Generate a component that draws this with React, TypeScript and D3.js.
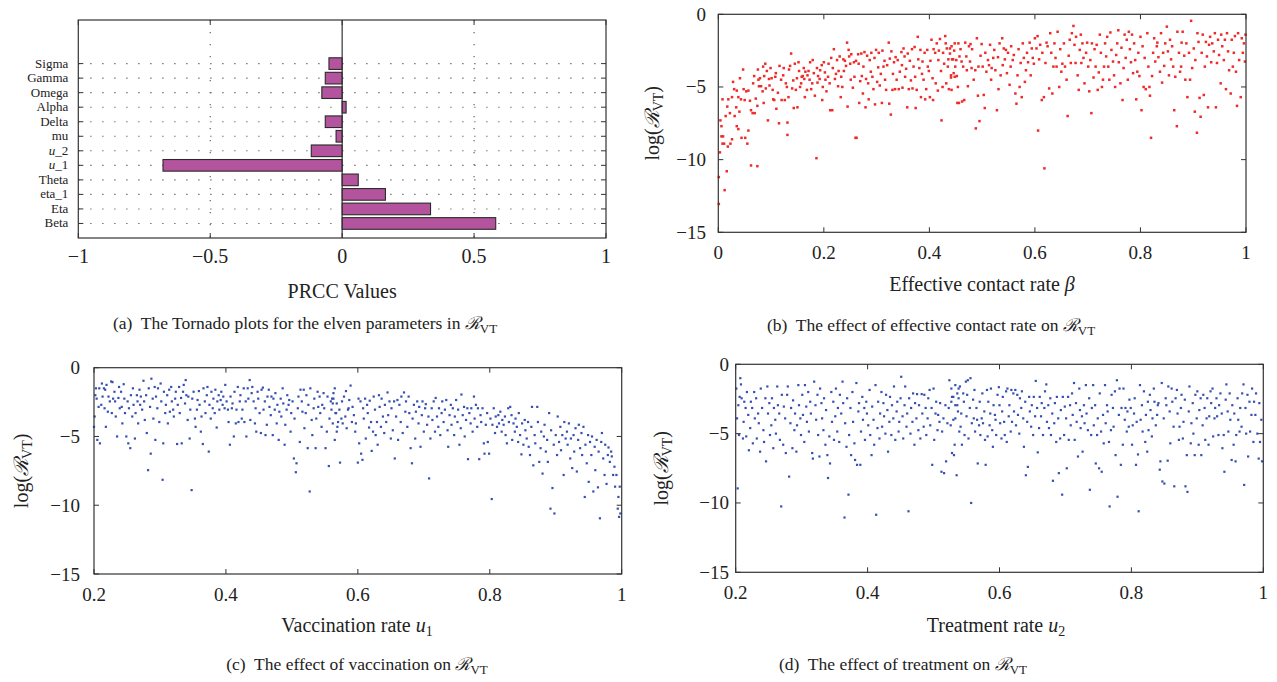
import React from "react";
import * as d3 from "d3";

const FONT = "'Liberation Serif', 'DejaVu Serif', serif";

// ---------- Panel (a): tornado ----------
const params = ["Sigma", "Gamma", "Omega", "Alpha", "Delta", "mu", "u_2", "u_1", "Theta", "eta_1", "Eta", "Beta"];
const prcc = [-0.05, -0.064, -0.077, 0.015, -0.064, -0.023, -0.117, -0.679, 0.061, 0.164, 0.335, 0.582];
const prccTicks = [-1, -0.5, 0, 0.5, 1];

// ---------- Panel (b): beta ----------
const betaPts: [number, number][] = [
[0.001,-13.05],[0.001,-11.2],[0.003,-9.5],[0.004,-7.3],[0.006,-7.7],[0.006,-8.4],[0.009,-8.4],[0.008,-8.9],[0.012,-12.1],[0.011,-8.9],[0.016,-10.8],[0.018,-9.1],[0.008,-5.85],[0.014,-7.0],[0.017,-6.35],[0.019,-5.85],[0.022,-6.8],[0.023,-8.9],[0.026,-8.6],[0.026,-5.7],[0.028,-4.65],[0.030,-5.15],[0.031,-7.0],[0.034,-6.4],[0.035,-7.7],[0.035,-5.25],[0.038,-7.9],[0.038,-5.7],[0.040,-6.7],[0.041,-4.4],[0.043,-5.85],[0.044,-8.5],[0.047,-3.8],[0.048,-5.15],[0.050,-5.9],[0.051,-8.5],[0.053,-5.3],[0.055,-8.9],[0.057,-8.0],[0.057,-5.25],[0.060,-5.95],[0.062,-6.6],[0.062,-10.4],[0.074,-10.45],[0.065,-6.8],[0.066,-4.75],[0.068,-4.25],[0.069,-6.8],[0.071,-5.8],[0.074,-6.3],[0.075,-3.8],[0.076,-4.5],[0.077,-4.95],[0.079,-4.4],[0.081,-4.95],[0.084,-5.3],[0.085,-3.6],[0.086,-6.1],[0.087,-4.25],[0.089,-3.4],[0.090,-5.1],[0.092,-3.9],[0.094,-7.3],[0.096,-4.45],[0.097,-4.9],[0.099,-3.7],[0.101,-4.4],[0.103,-5.2],[0.104,-5.85],[0.106,-5.9],[0.108,-4.3],[0.109,-4.05],[0.110,-6.5],[0.113,-5.4],[0.115,-7.5],[0.116,-3.55],[0.119,-4.5],[0.120,-5.9],[0.123,-4.2],[0.124,-3.7],[0.126,-5.9],[0.128,-4.75],[0.130,-5.0],[0.131,-8.3],[0.131,-7.45],[0.133,-5.7],[0.134,-3.8],[0.136,-3.55],[0.138,-2.7],[0.140,-5.1],[0.142,-4.55],[0.143,-6.45],[0.145,-3.4],[0.147,-5.2],[0.149,-4.4],[0.150,-6.4],[0.152,-3.3],[0.153,-3.9],[0.155,-5.0],[0.157,-4.75],[0.158,-4.3],[0.160,-4.25],[0.162,-3.7],[0.163,-4.45],[0.164,-5.7],[0.165,-3.95],[0.168,-5.2],[0.169,-4.2],[0.171,-3.9],[0.173,-4.5],[0.174,-3.3],[0.176,-5.15],[0.178,-4.75],[0.179,-3.15],[0.181,-4.05],[0.183,-5.6],[0.186,-9.9],[0.187,-3.7],[0.188,-4.7],[0.189,-4.25],[0.192,-4.45],[0.193,-3.85],[0.196,-3.5],[0.197,-5.9],[0.198,-5.0],[0.200,-3.3],[0.202,-4.0],[0.203,-4.5],[0.205,-5.3],[0.208,-4.3],[0.209,-3.4],[0.211,-4.75],[0.212,-6.6],[0.214,-3.0],[0.216,-6.6],[0.217,-3.7],[0.219,-2.4],[0.221,-4.45],[0.223,-4.1],[0.225,-3.15],[0.227,-4.95],[0.228,-3.9],[0.230,-2.9],[0.232,-5.7],[0.233,-4.3],[0.235,-5.0],[0.237,-3.1],[0.238,-3.9],[0.240,-3.2],[0.242,-3.55],[0.244,-1.95],[0.245,-6.35],[0.247,-2.45],[0.248,-2.9],[0.250,-3.4],[0.251,-4.5],[0.252,-2.75],[0.255,-5.05],[0.257,-3.3],[0.258,-4.3],[0.260,-8.5],[0.261,-3.2],[0.262,-8.5],[0.265,-2.75],[0.266,-3.4],[0.267,-6.1],[0.269,-4.6],[0.271,-2.7],[0.272,-4.25],[0.274,-5.45],[0.275,-3.6],[0.277,-2.6],[0.279,-6.4],[0.280,-4.45],[0.282,-2.85],[0.284,-4.75],[0.285,-5.85],[0.287,-3.15],[0.289,-3.95],[0.290,-2.65],[0.292,-4.3],[0.294,-5.15],[0.296,-3.0],[0.297,-6.2],[0.299,-2.45],[0.301,-4.65],[0.303,-3.65],[0.304,-2.65],[0.306,-4.9],[0.308,-4.1],[0.310,-6.1],[0.311,-2.5],[0.313,-3.6],[0.315,-3.2],[0.316,-4.5],[0.318,-5.2],[0.320,-3.5],[0.323,-1.95],[0.324,-6.15],[0.325,-3.05],[0.327,-6.9],[0.328,-2.55],[0.330,-5.2],[0.331,-4.1],[0.333,-3.3],[0.335,-5.15],[0.336,-2.95],[0.338,-4.5],[0.340,-3.15],[0.342,-5.15],[0.344,-3.95],[0.347,-2.6],[0.348,-3.5],[0.349,-5.05],[0.351,-2.35],[0.353,-2.9],[0.354,-4.3],[0.356,-3.75],[0.358,-6.4],[0.359,-2.7],[0.361,-5.15],[0.363,-3.2],[0.365,-4.55],[0.367,-2.4],[0.368,-5.1],[0.370,-3.6],[0.372,-2.25],[0.373,-4.3],[0.374,-6.45],[0.376,-5.2],[0.378,-1.55],[0.379,-3.1],[0.381,-3.7],[0.383,-2.45],[0.384,-5.7],[0.386,-4.1],[0.387,-3.25],[0.389,-4.5],[0.391,-2.65],[0.392,-5.85],[0.394,-5.15],[0.396,-2.45],[0.397,-3.6],[0.399,-3.9],[0.401,-5.7],[0.402,-3.2],[0.404,-1.75],[0.406,-4.4],[0.407,-5.9],[0.408,-2.4],[0.411,-2.65],[0.412,-4.75],[0.414,-2.0],[0.416,-5.25],[0.417,-3.15],[0.418,-2.5],[0.420,-1.7],[0.422,-3.9],[0.423,-7.3],[0.425,-5.0],[0.426,-2.65],[0.428,-3.4],[0.430,-1.5],[0.431,-2.0],[0.432,-4.75],[0.433,-2.35],[0.435,-3.6],[0.436,-3.1],[0.437,-5.15],[0.439,-2.7],[0.441,-4.2],[0.442,-2.2],[0.443,-3.1],[0.446,-4.05],[0.447,-2.5],[0.448,-4.3],[0.451,-3.15],[0.453,-6.1],[0.455,-2.0],
[0.439,-2.35],[0.441,-4.35],[0.442,-5.2],[0.445,-3.1],[0.448,-2.0],[0.449,-3.6],[0.452,-4.25],[0.454,-5.0],[0.456,-6.1],[0.457,-2.9],[0.459,-2.4],[0.461,-3.25],[0.462,-6.0],[0.464,-3.6],[0.466,-5.9],[0.468,-1.95],[0.470,-2.9],[0.471,-3.85],[0.473,-4.95],[0.475,-2.2],[0.477,-3.25],[0.478,-2.05],[0.480,-3.7],[0.481,-2.4],[0.484,-4.5],[0.487,-3.85],[0.488,-7.85],[0.490,-1.65],[0.492,-5.6],[0.493,-3.6],[0.495,-7.35],[0.497,-2.85],[0.499,-2.05],[0.501,-3.6],[0.503,-5.55],[0.505,-6.45],[0.506,-2.65],[0.508,-3.95],[0.511,-3.15],[0.513,-3.5],[0.515,-2.1],[0.517,-4.5],[0.518,-3.7],[0.521,-3.0],[0.523,-2.45],[0.525,-3.85],[0.528,-6.6],[0.530,-2.95],[0.531,-5.15],[0.533,-2.0],[0.535,-4.2],[0.538,-1.65],[0.539,-3.5],[0.541,-2.35],[0.543,-3.1],[0.545,-2.45],[0.547,-4.05],[0.549,-2.65],[0.552,-4.85],[0.554,-3.6],[0.555,-2.2],[0.558,-3.15],[0.560,-2.8],[0.563,-5.45],[0.565,-6.15],[0.567,-4.2],[0.569,-2.4],[0.571,-5.0],[0.573,-3.35],[0.575,-5.7],[0.577,-2.0],[0.579,-3.0],[0.581,-4.65],[0.583,-3.85],[0.585,-2.65],[0.587,-3.3],[0.590,-1.95],[0.592,-4.2],[0.594,-2.35],[0.596,-3.0],[0.598,-3.4],[0.600,-1.65],[0.603,-2.35],[0.605,-1.5],[0.606,-8.0],[0.608,-3.1],[0.610,-2.1],[0.613,-5.9],[0.614,-2.65],[0.617,-5.7],[0.618,-10.6],[0.620,-3.35],[0.622,-1.95],[0.624,-2.2],[0.627,-5.1],[0.629,-1.3],[0.631,-2.65],[0.633,-5.45],[0.635,-3.6],[0.637,-2.0],[0.639,-3.0],[0.641,-3.6],[0.643,-1.2],[0.646,-5.0],[0.648,-2.4],[0.650,-3.95],[0.652,-3.4],[0.655,-2.0],[0.657,-3.6],[0.660,-4.5],[0.662,-7.0],[0.664,-2.85],[0.666,-1.75],[0.668,-3.35],[0.670,-1.3],[0.673,-0.8],[0.675,-2.1],[0.677,-3.35],[0.678,-1.55],[0.681,-4.2],[0.683,-5.2],[0.685,-2.45],[0.687,-1.4],[0.688,-3.35],[0.690,-2.0],[0.692,-3.0],[0.694,-4.75],[0.697,-2.65],[0.699,-1.95],[0.701,-3.6],[0.703,-5.3],[0.705,-3.15],[0.707,-6.8],[0.708,-2.0],[0.711,-4.35],[0.713,-2.4],[0.715,-3.6],[0.717,-2.1],[0.719,-5.2],[0.721,-4.0],[0.723,-1.4],[0.725,-2.65],[0.727,-5.0],[0.729,-4.5],[0.731,-3.6],[0.733,-2.0],[0.735,-2.9],[0.737,-1.55],[0.739,-3.6],[0.741,-4.5],[0.743,-1.25],[0.745,-2.45],[0.748,-3.25],[0.750,-4.2],[0.752,-5.0],[0.754,-2.8],[0.756,-2.0],[0.758,-1.1],[0.759,-3.3],[0.762,-4.75],[0.764,-2.3],[0.766,-5.9],[0.768,-3.7],[0.770,-1.4],[0.772,-3.0],[0.774,-1.75],[0.776,-4.5],[0.778,-1.2],[0.780,-2.4],[0.782,-3.3],[0.784,-1.4],[0.786,-4.05],[0.788,-2.0],[0.790,-3.15],[0.792,-5.85],[0.794,-3.95],[0.796,-2.65],[0.798,-4.25],[0.800,-1.55],[0.802,-6.6],[0.804,-2.2],[0.806,-5.0],[0.808,-3.0],[0.810,-5.15],[0.813,-1.3],[0.815,-3.6],[0.817,-5.0],[0.818,-5.6],[0.820,-8.5],[0.822,-4.25],[0.824,-2.65],[0.826,-1.65],[0.828,-3.25],[0.831,-2.2],[0.832,-1.95],[0.834,-2.95],[0.837,-3.95],[0.839,-1.3],[0.841,-4.7],[0.843,-2.65],[0.845,-3.55],[0.847,-2.0],[0.850,-0.85],[0.852,-2.55],[0.854,-4.2],[0.856,-1.75],[0.858,-3.1],[0.860,-2.2],[0.862,-3.6],[0.864,-6.6],[0.866,-4.3],[0.869,-7.7],[0.870,-1.2],[0.873,-2.65],[0.875,-3.95],[0.877,-3.6],[0.878,-1.95],[0.880,-1.2],[0.883,-2.85],[0.885,-4.5],[0.887,-2.0],[0.889,-5.7],[0.892,-2.65],[0.894,-4.5],[0.896,-0.45],[0.898,-3.7],[0.901,-2.35],[0.903,-6.7],[0.904,-3.15],[0.907,-8.15],[0.908,-1.3],[0.910,-1.9],[0.912,-5.75],[0.914,-7.05],[0.916,-2.65],[0.918,-1.4],[0.920,-5.55],[0.922,-3.6],[0.924,-1.9],[0.926,-2.9],[0.928,-6.4],[0.930,-2.1],[0.932,-1.55],[0.934,-3.3],[0.936,-2.0],[0.939,-2.55],[0.941,-1.3],[0.943,-6.4],[0.945,-3.35],[0.947,-1.75],[0.949,-2.8],[0.952,-4.75],[0.953,-1.4],[0.955,-2.2],[0.958,-3.15],[0.960,-1.75],[0.962,-5.15],[0.964,-1.3],[0.966,-2.55],[0.968,-3.85],[0.971,-5.45],[0.973,-1.75],[0.975,-3.6],[0.977,-2.65],[0.979,-1.5],[0.981,-3.95],[0.983,-6.3],[0.985,-1.3],[0.987,-3.15],[0.990,-5.7],[0.992,-1.65],[0.994,-2.65],[0.996,-2.0],[0.998,-3.25],[0.999,-1.4]
];

// ---------- Panel (c): vaccination u1 ----------
const u1Pts: [number, number][] = [
[0.200,-4.3],[0.201,-3.55],[0.202,-2.0],[0.203,-1.5],[0.204,-2.25],[0.205,-5.25],[0.207,-2.85],[0.208,-1.5],[0.209,-5.5],[0.211,-2.7],[0.212,-1.15],[0.213,-2.1],[0.215,-1.5],[0.216,-2.95],[0.217,-1.6],[0.218,-4.3],[0.219,-1.25],[0.221,-3.2],[0.222,-2.1],[0.224,-2.45],[0.226,-1.0],[0.227,-3.3],[0.228,-1.05],[0.229,-2.25],[0.231,-1.75],[0.232,-2.45],[0.233,-3.55],[0.235,-5.0],[0.237,-2.2],[0.238,-1.4],[0.239,-2.95],[0.241,-1.75],[0.242,-2.85],[0.243,-4.05],[0.245,-1.2],[0.246,-2.25],[0.247,-3.3],[0.249,-5.0],[0.251,-2.45],[0.252,-5.5],[0.253,-2.95],[0.255,-5.85],[0.256,-2.0],[0.258,-3.55],[0.259,-1.5],[0.260,-2.7],[0.262,-5.15],[0.263,-3.3],[0.265,-2.0],[0.266,-2.45],[0.267,-4.05],[0.269,-1.6],[0.270,-2.7],[0.271,-2.1],[0.273,-3.05],[0.275,-0.95],[0.276,-2.45],[0.277,-3.8],[0.279,-2.0],[0.280,-4.75],[0.282,-7.45],[0.283,-1.5],[0.285,-2.85],[0.286,-6.25],[0.287,-0.8],[0.289,-2.25],[0.290,-3.7],[0.292,-1.4],[0.293,-5.25],[0.294,-2.1],[0.296,-2.95],[0.297,-1.5],[0.299,-3.95],[0.301,-1.15],[0.302,-2.45],[0.304,-8.15],[0.305,-5.5],[0.306,-1.75],[0.308,-3.3],[0.309,-2.7],[0.311,-2.0],[0.312,-4.05],[0.314,-1.6],[0.315,-3.2],[0.317,-1.4],[0.318,-2.45],[0.320,-3.05],[0.321,-3.55],[0.323,-2.25],[0.324,-1.75],[0.326,-5.55],[0.327,-2.7],[0.329,-1.4],[0.330,-3.3],[0.332,-2.2],[0.333,-5.5],[0.335,-1.75],[0.336,-1.25],[0.338,-2.6],[0.339,-0.9],[0.340,-2.0],[0.342,-3.8],[0.343,-2.1],[0.345,-5.15],[0.346,-3.05],[0.348,-8.9],[0.349,-2.25],[0.351,-1.75],[0.353,-3.7],[0.354,-4.3],[0.356,-3.05],[0.357,-2.35],[0.359,-1.7],[0.360,-2.7],[0.362,-4.65],[0.363,-3.55],[0.365,-5.55],[0.366,-1.5],[0.368,-2.45],[0.369,-3.3],[0.371,-2.0],[0.372,-1.4],[0.374,-6.1],[0.375,-2.7],[0.377,-3.7],[0.378,-1.75],[0.380,-2.95],[0.381,-2.25],[0.383,-3.3],[0.384,-1.6],[0.386,-4.35],[0.387,-2.45],[0.389,-2.0],[0.390,-3.05],[0.392,-2.35],[0.393,-1.75],[0.395,-2.7],[0.396,-2.1],[0.398,-2.95],[0.399,-1.25],[0.401,-2.45],[0.403,-3.05],[0.404,-3.95],[0.406,-5.6],[0.407,-2.1],[0.409,-2.95],[0.410,-2.6],[0.412,-5.0],[0.413,-1.75],[0.415,-4.05],[0.416,-3.05],[0.418,-1.4],[0.419,-3.95],[0.421,-2.45],[0.422,-2.0],[0.424,-3.7],[0.425,-3.05],[0.427,-1.5],[0.428,-3.95],[0.430,-2.45],[0.431,-5.0],[0.433,-1.5],[0.434,-2.25],[0.436,-0.9],[0.437,-3.8],[0.439,-1.85],[0.440,-1.4],[0.442,-2.45],[0.444,-4.05],[0.445,-2.95],[0.446,-4.65],[0.448,-1.75],[0.449,-2.25],[0.451,-3.3],[0.453,-4.75],[0.454,-1.6],[0.456,-1.45],[0.457,-3.05],[0.459,-2.45],[0.460,-4.9],[0.462,-4.15],[0.463,-2.1],[0.465,-1.6],[0.466,-2.85],[0.468,-3.45],[0.469,-2.1],[0.471,-4.9],[0.472,-2.25],[0.474,-3.05],[0.475,-1.85],[0.477,-4.05],[0.478,-2.7],[0.480,-5.25],[0.481,-3.2],[0.483,-2.25],[0.484,-3.55],[0.486,-1.5],[0.487,-2.6],[0.489,-5.6],[0.490,-4.15],[0.492,-3.05],[0.493,-2.0],[0.495,-2.7],[0.496,-2.35],[0.498,-4.65],[0.499,-3.3],[0.501,-2.45],[0.503,-6.6],[0.504,-3.7],[0.506,-7.6],[0.507,-6.95],[0.509,-2.95],[0.510,-2.1],[0.512,-5.4],[0.513,-1.6],[0.515,-2.45],[0.516,-3.2],[0.518,-1.6],[0.519,-4.4],[0.521,-3.3],[0.522,-2.0],[0.524,-5.85],[0.525,-2.7],[0.527,-9.0],[0.528,-1.5],[0.530,-3.8],[0.531,-4.9],[0.533,-2.95],[0.534,-2.25],[0.536,-5.85],[0.537,-3.7],[0.539,-1.75],[0.540,-2.85],[0.542,-2.1],[0.543,-3.3],[0.545,-4.3],[0.546,-2.7],[0.548,-1.85],[0.549,-2.95],[0.551,-5.85],[0.553,-4.65],[0.554,-2.1],[0.556,-7.15],[0.557,-3.7],[0.559,-2.45],[0.560,-3.05],[0.562,-4.05],[0.563,-2.25],[0.565,-5.25],[0.566,-3.3],[0.568,-2.6],[0.569,-4.3],
[0.561,-2.25],[0.562,-2.6],[0.563,-1.85],[0.565,-1.5],[0.567,-3.3],[0.568,-4.65],[0.570,-3.95],[0.572,-3.05],[0.573,-6.9],[0.575,-3.7],[0.576,-2.45],[0.577,-4.05],[0.579,-2.1],[0.581,-3.55],[0.582,-1.7],[0.583,-4.4],[0.585,-3.05],[0.586,-2.95],[0.587,-2.35],[0.589,-1.3],[0.591,-3.95],[0.592,-2.85],[0.594,-3.45],[0.596,-4.65],[0.597,-4.05],[0.600,-6.9],[0.601,-2.25],[0.602,-5.5],[0.604,-2.45],[0.605,-6.25],[0.607,-6.7],[0.608,-2.95],[0.609,-3.7],[0.611,-2.25],[0.612,-5.15],[0.614,-2.7],[0.615,-3.3],[0.617,-4.35],[0.618,-2.4],[0.620,-3.95],[0.621,-6.05],[0.623,-4.65],[0.624,-2.1],[0.626,-3.05],[0.627,-4.9],[0.629,-3.95],[0.630,-5.6],[0.632,-2.0],[0.633,-2.85],[0.635,-4.3],[0.636,-2.25],[0.638,-3.55],[0.640,-4.75],[0.641,-2.7],[0.643,-3.95],[0.645,-1.8],[0.646,-3.45],[0.648,-2.45],[0.650,-5.15],[0.651,-2.95],[0.653,-4.55],[0.655,-2.45],[0.656,-6.6],[0.658,-3.55],[0.660,-2.35],[0.661,-5.25],[0.663,-2.7],[0.665,-3.95],[0.666,-2.1],[0.668,-4.75],[0.670,-1.8],[0.672,-3.2],[0.673,-2.45],[0.675,-4.3],[0.677,-2.1],[0.678,-3.3],[0.680,-5.85],[0.682,-6.95],[0.683,-3.7],[0.685,-2.7],[0.687,-5.15],[0.688,-3.2],[0.690,-2.45],[0.692,-4.05],[0.693,-2.85],[0.695,-5.75],[0.697,-3.45],[0.698,-2.45],[0.700,-4.65],[0.702,-2.95],[0.703,-2.65],[0.705,-4.15],[0.707,-3.55],[0.708,-8.05],[0.710,-5.15],[0.712,-2.95],[0.713,-3.8],[0.715,-2.45],[0.717,-4.65],[0.718,-2.2],[0.720,-3.55],[0.722,-4.3],[0.723,-2.95],[0.725,-4.9],[0.727,-3.3],[0.728,-2.45],[0.730,-3.95],[0.732,-3.05],[0.734,-2.35],[0.736,-4.55],[0.737,-5.75],[0.739,-3.45],[0.741,-2.7],[0.742,-4.15],[0.744,-2.95],[0.746,-4.9],[0.747,-3.55],[0.749,-2.35],[0.751,-3.95],[0.752,-3.05],[0.754,-5.6],[0.756,-4.4],[0.757,-1.95],[0.759,-3.45],[0.761,-2.85],[0.762,-5.0],[0.764,-3.8],[0.766,-2.95],[0.767,-6.65],[0.769,-3.3],[0.771,-4.05],[0.772,-2.95],[0.774,-4.65],[0.776,-2.1],[0.777,-3.7],[0.779,-2.7],[0.781,-4.3],[0.782,-2.95],[0.784,-6.65],[0.786,-3.45],[0.787,-3.95],[0.789,-2.95],[0.791,-5.5],[0.792,-6.25],[0.794,-4.15],[0.796,-3.3],[0.797,-5.4],[0.799,-6.25],[0.801,-3.7],[0.803,-9.55],[0.804,-4.15],[0.806,-2.95],[0.808,-4.75],[0.809,-3.55],[0.811,-4.3],[0.813,-3.45],[0.814,-4.05],[0.816,-3.2],[0.818,-4.65],[0.819,-3.8],[0.821,-4.15],[0.823,-3.55],[0.824,-4.9],[0.826,-5.5],[0.828,-2.95],[0.829,-3.95],[0.831,-2.85],[0.833,-3.45],[0.834,-5.25],[0.836,-4.05],[0.838,-4.65],[0.839,-3.7],[0.841,-4.3],[0.843,-5.4],[0.844,-3.3],[0.846,-4.9],[0.848,-6.3],[0.849,-4.05],[0.851,-5.6],[0.853,-3.8],[0.854,-4.55],[0.856,-5.15],[0.858,-3.95],[0.859,-5.75],[0.861,-6.35],[0.863,-4.3],[0.864,-2.85],[0.866,-7.1],[0.868,-4.9],[0.869,-5.5],[0.872,-2.85],[0.873,-3.95],[0.875,-6.85],[0.877,-5.85],[0.878,-4.65],[0.880,-7.7],[0.882,-5.0],[0.883,-4.15],[0.885,-6.1],[0.887,-5.25],[0.888,-6.85],[0.890,-3.3],[0.892,-10.25],[0.893,-4.55],[0.895,-8.75],[0.897,-5.6],[0.898,-10.6],[0.900,-4.9],[0.902,-6.35],[0.903,-3.55],[0.905,-5.4],[0.907,-4.3],[0.908,-6.0],[0.910,-4.9],[0.912,-7.8],[0.913,-3.95],[0.915,-5.15],[0.917,-4.65],[0.918,-5.6],[0.920,-4.05],[0.922,-6.6],[0.923,-5.15],[0.925,-7.3],[0.927,-4.9],[0.928,-6.1],[0.930,-4.4],[0.932,-7.55],[0.934,-5.25],[0.935,-4.15],[0.937,-5.85],[0.939,-4.75],[0.940,-6.35],[0.942,-4.3],[0.944,-9.4],[0.945,-5.6],[0.947,-6.95],[0.949,-4.9],[0.950,-8.3],[0.952,-5.4],[0.954,-6.35],[0.955,-5.0],[0.957,-9.0],[0.959,-5.75],[0.960,-7.45],[0.962,-5.25],[0.964,-8.7],[0.965,-6.1],[0.967,-10.95],[0.969,-5.4],[0.970,-4.75],[0.972,-6.6],[0.974,-7.8],[0.975,-5.6],[0.977,-8.45],[0.979,-6.35],[0.980,-5.8],[0.982,-6.85],[0.984,-6.1],[0.985,-6.45],[0.987,-7.8],[0.989,-7.2],[0.990,-8.65],[0.992,-7.8],[0.994,-10.25],[0.995,-9.4],[0.996,-10.85],[0.997,-8.65],[0.998,-10.6]
];

// ---------- Panel (d): treatment u2 ----------
const u2Pts: [number, number][] = [
[0.201,-1.75],[0.202,-3.9],[0.203,-8.95],[0.204,-2.95],[0.205,-5.1],[0.206,-2.35],[0.207,-1.0],[0.208,-1.45],[0.209,-2.45],[0.211,-5.35],[0.212,-4.15],[0.213,-2.7],[0.215,-3.15],[0.216,-5.2],[0.217,-2.0],[0.219,-3.65],[0.220,-6.2],[0.222,-4.6],[0.223,-2.7],[0.225,-3.15],[0.226,-5.7],[0.228,-2.0],[0.229,-3.9],[0.231,-2.45],[0.232,-5.35],[0.234,-3.55],[0.235,-4.25],[0.237,-6.3],[0.238,-1.75],[0.240,-3.15],[0.242,-4.75],[0.243,-5.6],[0.245,-2.45],[0.246,-7.0],[0.248,-1.6],[0.249,-3.55],[0.251,-2.8],[0.252,-5.1],[0.254,-4.4],[0.255,-2.45],[0.257,-6.05],[0.258,-3.15],[0.260,-4.0],[0.261,-5.0],[0.263,-1.6],[0.264,-2.95],[0.266,-3.55],[0.267,-5.45],[0.269,-10.25],[0.270,-2.2],[0.272,-5.8],[0.273,-3.05],[0.275,-3.9],[0.276,-6.4],[0.278,-2.2],[0.279,-1.6],[0.281,-8.1],[0.283,-4.25],[0.284,-3.15],[0.286,-6.05],[0.287,-2.6],[0.289,-4.75],[0.290,-3.55],[0.292,-6.3],[0.293,-4.4],[0.295,-1.5],[0.296,-2.95],[0.298,-3.9],[0.299,-5.1],[0.301,-2.2],[0.302,-3.65],[0.304,-5.6],[0.305,-1.5],[0.307,-3.05],[0.308,-4.15],[0.310,-2.0],[0.311,-4.85],[0.313,-2.7],[0.314,-3.55],[0.316,-6.4],[0.317,-6.8],[0.319,-1.25],[0.321,-2.95],[0.322,-4.0],[0.324,-2.2],[0.325,-5.1],[0.327,-6.65],[0.328,-1.75],[0.330,-2.8],[0.331,-3.9],[0.333,-4.75],[0.334,-2.45],[0.336,-5.8],[0.337,-3.3],[0.339,-6.55],[0.340,-8.2],[0.342,-5.2],[0.343,-7.15],[0.345,-2.0],[0.346,-4.15],[0.348,-2.7],[0.349,-5.45],[0.351,-3.75],[0.352,-1.75],[0.354,-4.85],[0.355,-3.15],[0.357,-5.6],[0.358,-2.2],[0.360,-3.55],[0.362,-1.25],[0.363,-2.8],[0.365,-11.05],[0.366,-4.25],[0.368,-5.95],[0.369,-2.45],[0.371,-9.4],[0.372,-5.1],[0.374,-3.15],[0.375,-6.55],[0.377,-2.0],[0.378,-4.15],[0.380,-5.7],[0.381,-6.9],[0.383,-1.35],[0.384,-7.25],[0.386,-3.4],[0.387,-2.8],[0.389,-7.25],[0.390,-4.85],[0.392,-2.35],[0.393,-4.0],[0.395,-3.15],[0.396,-5.45],[0.398,-2.7],[0.399,-3.55],[0.401,-4.4],[0.403,-1.85],[0.404,-5.1],[0.406,-6.55],[0.407,-3.05],[0.409,-4.0],[0.410,-5.8],[0.412,-1.5],[0.413,-10.85],[0.415,-4.6],[0.416,-2.7],[0.418,-5.35],[0.419,-3.55],[0.421,-2.0],[0.422,-4.5],[0.424,-2.8],[0.425,-3.75],[0.427,-5.0],[0.428,-2.2],[0.430,-3.3],[0.431,-6.3],[0.433,-4.15],[0.434,-2.35],[0.436,-5.1],[0.437,-2.95],[0.439,-3.9],[0.440,-1.6],[0.442,-5.45],[0.444,-3.4],[0.445,-2.7],[0.447,-4.85],[0.448,-4.15],[0.450,-2.45],[0.451,-0.9],[0.453,-3.75],[0.454,-5.35],[0.456,-2.95],[0.457,-1.6],[0.459,-4.5],[0.460,-3.55],[0.462,-10.6],[0.463,-2.45],[0.465,-5.0],[0.466,-3.15],[0.468,-4.15],[0.469,-2.1],[0.471,-5.8],[0.472,-2.8],[0.474,-3.9],[0.475,-2.15],[0.477,-4.75],[0.478,-2.95],[0.480,-5.35],[0.482,-2.15],[0.483,-3.55],[0.485,-4.5],[0.486,-2.2],[0.488,-3.15],[0.489,-5.1],[0.491,-3.9],[0.492,-2.45],[0.494,-1.85],[0.495,-4.4],[0.497,-3.15],[0.498,-7.25],[0.500,-1.75],[0.501,-5.45],[0.503,-3.55],[0.504,-2.7],[0.506,-4.75],[0.507,-3.65],[0.509,-4.15],[0.510,-2.8],[0.512,-7.75],[0.513,-4.85],[0.515,-3.9],[0.516,-7.85],[0.518,-2.95],[0.519,-7.0],[0.521,-4.25],[0.523,-3.15],[0.524,-1.15],[0.526,-4.4],[0.527,-2.7],[0.528,-6.4],[0.530,-2.35],[0.532,-5.8],[0.533,-3.9],[0.535,-8.0],[0.536,-2.95],[0.538,-1.75],[0.539,-4.85],
[0.527,-1.75],[0.528,-2.35],[0.530,-4.0],[0.531,-6.55],[0.533,-2.95],[0.533,-1.5],[0.536,-2.1],[0.537,-3.4],[0.538,-2.45],[0.540,-1.6],[0.541,-4.5],[0.542,-3.55],[0.543,-5.8],[0.545,-2.1],[0.546,-2.7],[0.547,-5.1],[0.549,-1.25],[0.550,-3.75],[0.551,-2.2],[0.552,-1.15],[0.553,-5.35],[0.555,-3.15],[0.556,-1.0],[0.557,-10.0],[0.558,-4.25],[0.560,-2.55],[0.561,-3.9],[0.562,-1.85],[0.563,-4.85],[0.565,-3.15],[0.566,-4.0],[0.567,-7.15],[0.569,-4.4],[0.570,-2.7],[0.571,-5.1],[0.573,-3.9],[0.574,-2.1],[0.575,-4.25],[0.577,-3.4],[0.578,-5.45],[0.579,-7.25],[0.581,-1.85],[0.582,-5.2],[0.583,-2.7],[0.585,-4.4],[0.586,-3.55],[0.587,-1.75],[0.589,-4.75],[0.590,-5.95],[0.591,-2.95],[0.593,-3.65],[0.594,-4.0],[0.595,-5.1],[0.597,-2.2],[0.599,-1.65],[0.600,-2.95],[0.601,-4.25],[0.603,-5.35],[0.604,-3.4],[0.605,-2.35],[0.607,-4.15],[0.608,-5.1],[0.610,-1.95],[0.611,-5.6],[0.612,-1.75],[0.614,-3.75],[0.615,-2.95],[0.617,-4.85],[0.618,-1.85],[0.619,-4.15],[0.621,-2.1],[0.622,-3.4],[0.624,-1.85],[0.625,-4.4],[0.627,-2.2],[0.628,-3.65],[0.630,-5.0],[0.631,-2.45],[0.633,-3.15],[0.634,-1.95],[0.636,-3.9],[0.637,-5.95],[0.639,-2.7],[0.640,-8.0],[0.642,-4.15],[0.643,-7.4],[0.645,-2.35],[0.646,-3.4],[0.648,-4.5],[0.649,-2.95],[0.651,-5.1],[0.652,-2.35],[0.654,-3.75],[0.655,-1.2],[0.657,-3.15],[0.658,-6.35],[0.660,-4.6],[0.661,-2.35],[0.663,-3.75],[0.664,-2.8],[0.666,-5.1],[0.668,-3.15],[0.669,-1.95],[0.671,-1.45],[0.672,-4.15],[0.674,-2.95],[0.675,-4.6],[0.677,-2.45],[0.678,-5.1],[0.680,-3.55],[0.681,-8.4],[0.683,-4.25],[0.684,-2.8],[0.686,-5.6],[0.687,-2.35],[0.689,-3.9],[0.690,-7.85],[0.692,-5.35],[0.693,-3.3],[0.695,-9.4],[0.696,-2.35],[0.698,-5.1],[0.699,-3.05],[0.701,-3.9],[0.702,-7.5],[0.704,-2.35],[0.705,-5.45],[0.707,-2.95],[0.708,-4.4],[0.710,-2.1],[0.711,-3.65],[0.713,-1.35],[0.714,-5.45],[0.716,-2.8],[0.717,-4.15],[0.719,-6.65],[0.721,-1.75],[0.722,-3.3],[0.723,-4.6],[0.725,-3.75],[0.726,-6.3],[0.728,-2.95],[0.729,-4.25],[0.731,-1.5],[0.732,-3.55],[0.734,-4.75],[0.736,-2.45],[0.737,-9.05],[0.739,-5.1],[0.740,-3.15],[0.742,-1.5],[0.743,-4.4],[0.745,-2.95],[0.746,-7.15],[0.748,-5.1],[0.749,-3.9],[0.751,-7.5],[0.752,-2.1],[0.754,-4.85],[0.755,-7.75],[0.757,-3.65],[0.758,-5.7],[0.760,-1.5],[0.761,-4.25],[0.763,-2.95],[0.764,-3.4],[0.766,-5.6],[0.767,-10.25],[0.769,-4.75],[0.770,-2.2],[0.772,-3.15],[0.773,-4.5],[0.775,-1.95],[0.776,-6.55],[0.778,-1.15],[0.779,-9.55],[0.781,-3.65],[0.782,-1.75],[0.784,-7.25],[0.785,-3.15],[0.787,-5.8],[0.788,-1.75],[0.790,-4.0],[0.791,-3.15],[0.793,-4.85],[0.794,-3.4],[0.796,-4.5],[0.797,-2.55],[0.799,-3.15],[0.801,-5.8],[0.802,-4.4],[0.804,-3.55],[0.805,-2.45],[0.807,-7.25],[0.808,-4.15],[0.810,-6.5],[0.811,-10.6],[0.813,-1.5],[0.814,-4.0],[0.816,-2.95],[0.817,-4.85],[0.819,-1.95],[0.821,-5.6],[0.822,-3.65],[0.824,-6.3],[0.825,-2.7],[0.826,-4.75],[0.828,-2.2],[0.829,-3.3],[0.831,-5.2],[0.832,-3.9],[0.834,-1.75],[0.835,-2.7],[0.837,-4.4],[0.839,-3.65],[0.840,-2.95],[0.841,-2.8],[0.843,-7.6],[0.844,-7.0],[0.846,-1.35],[0.847,-8.45],[0.849,-3.9],[0.850,-8.6],[0.852,-2.45],[0.853,-2.95],[0.855,-6.95],[0.856,-1.6],[0.858,-3.4],[0.859,-5.7],[0.861,-1.75],[0.862,-2.7],[0.864,-4.5],[0.865,-8.8],[0.867,-2.45],[0.869,-1.85],[0.870,-3.55],[0.872,-5.45],[0.873,-4.5],[0.875,-3.15],[0.876,-2.2],[0.878,-5.35],[0.879,-4.15],[0.881,-2.55],[0.882,-8.8],[0.884,-6.55],[0.885,-9.2],[0.887,-3.4],[0.888,-1.6],[0.890,-5.7],[0.891,-4.25],[0.893,-2.8],[0.894,-5.0],[0.896,-6.55],[0.897,-2.2],[0.899,-3.9],[0.900,-1.95],[0.902,-5.8],[0.903,-3.3],[0.905,-2.45],[0.906,-6.55],[0.908,-4.4],[0.909,-2.2],[0.911,-3.15],[0.912,-5.45],[0.914,-3.9],[0.915,-2.45],[0.917,-5.8],[0.918,-3.75],[0.920,-1.95],[0.921,-2.8],[0.923,-1.75],[0.924,-5.2],[0.926,-3.9],[0.927,-3.15],[0.929,-2.45],[0.930,-3.75],[0.932,-5.1],[0.933,-2.95],[0.935,-2.1],[0.937,-3.55],[0.938,-6.05],[0.940,-5.1],[0.941,-7.75],[0.943,-2.55],[0.944,-1.45],[0.946,-3.4],[0.947,-4.85],[0.949,-2.1],[0.950,-4.0],[0.952,-6.9],[0.953,-2.95],[0.955,-5.8],[0.956,-3.55],[0.958,-7.0],[0.959,-5.1],[0.961,-2.45],[0.962,-4.0],[0.964,-4.85],[0.965,-3.15],[0.967,-4.5],[0.968,-2.1],[0.970,-1.45],[0.971,-8.7],[0.973,-3.15],[0.974,-5.0],[0.976,-2.2],[0.977,-6.65],[0.979,-2.7],[0.980,-4.85],[0.982,-3.65],[0.983,-1.75],[0.985,-5.6],[0.986,-2.7],[0.988,-3.65],[0.989,-2.1],[0.991,-5.0],[0.993,-6.8],[0.994,-2.8],[0.995,-5.6],[0.997,-4.0],[0.998,-7.0]
];

const logTicks = [0, -5, -10, -15];
const betaTicks = [0, 0.2, 0.4, 0.6, 0.8, 1];
const rateTicks = [0.2, 0.4, 0.6, 0.8, 1];

const fmt = (v: number) => (v < 0 ? "\u2212" + String(Math.abs(v)) : String(v));

type Box = { l: number; r: number; t: number; b: number };

const INK = "#333";

function RLabel({ x, y }: { x: number; y: number }) {
  return (
    <text transform={`translate(${x},${y}) rotate(-90)`} textAnchor="middle" fontSize={20} fontFamily={FONT} fill="#222">
      log(<tspan fontFamily="'DejaVu Serif', serif" fontStyle="italic">ℛ</tspan>
      <tspan fontSize={14} dy={4}>VT</tspan>
      <tspan dy={-4}>)</tspan>
    </text>
  );
}

function Scatter({ box, xDomain, xTicks, pts, color, dot, yLabelX, yTickX }: {
  box: Box; xDomain: [number, number]; xTicks: number[]; pts: [number, number][]; color: string; dot: number; yLabelX: number; yTickX: number;
}) {
  const x = d3.scaleLinear().domain(xDomain).range([box.l, box.r]);
  const y = d3.scaleLinear().domain([-15, 0]).range([box.b, box.t]);
  const tl = 5;
  return (
    <g>
      {pts.map((p, i) => (
        <rect key={i} x={x(p[0]) - dot / 2} y={y(p[1]) - dot / 2} width={dot} height={dot} fill={color} />
      ))}
      <rect x={box.l} y={box.t} width={box.r - box.l} height={box.b - box.t} fill="none" stroke={INK} strokeWidth={1.2} />
      {xTicks.map((t) => (
        <g key={"x" + t}>
          <line x1={x(t)} x2={x(t)} y1={box.b} y2={box.b - tl} stroke={INK} />
          <line x1={x(t)} x2={x(t)} y1={box.t} y2={box.t + tl} stroke={INK} />
          <text x={x(t)} y={box.b + 27} textAnchor="middle" fontSize={19} fontFamily={FONT} fill="#222">{fmt(t)}</text>
        </g>
      ))}
      {logTicks.map((t) => (
        <g key={"y" + t}>
          <line x1={box.l} x2={box.l + tl} y1={y(t)} y2={y(t)} stroke={INK} />
          <line x1={box.r} x2={box.r - tl} y1={y(t)} y2={y(t)} stroke={INK} />
          <text x={yTickX} y={y(t) + 6.5} textAnchor="end" fontSize={19} fontFamily={FONT} fill="#222">{fmt(t)}</text>
        </g>
      ))}
      <RLabel x={yLabelX} y={(box.t + box.b) / 2} />
    </g>
  );
}

function Tornado({ box }: { box: Box }) {
  const x = d3.scaleLinear().domain([-1, 1]).range([box.l, box.r]);
  const y = d3.scaleLinear().domain([0, 15]).range([box.b, box.t]);
  const n = params.length;
  const pos = (i: number) => n - i; // Sigma top (12) ... Beta bottom (1)
  const bh = y(0) - y(0.8);
  return (
    <g>
      {params.map((p, i) => (
        <line key={"g" + p} x1={box.l} x2={box.r} y1={y(pos(i))} y2={y(pos(i))} stroke="#555" strokeWidth={1.1} strokeDasharray="1.2 10.8" />
      ))}
      {[-0.5, 0.5].map((t) => (
        <line key={"v" + t} x1={x(t)} x2={x(t)} y1={box.t} y2={box.b} stroke="#555" strokeWidth={1.1} strokeDasharray="1.2 10.8" />
      ))}
      {params.map((p, i) => {
        const v = prcc[i];
        return (
          <rect key={"b" + p} x={x(Math.min(0, v))} y={y(pos(i)) - bh / 2} width={Math.abs(x(v) - x(0))} height={bh}
            fill="#b5549e" stroke="#2a2a2a" strokeWidth={1.1} />
        );
      })}
      <line x1={x(0)} x2={x(0)} y1={box.t} y2={box.b} stroke={INK} strokeWidth={1.2} />
      <rect x={box.l} y={box.t} width={box.r - box.l} height={box.b - box.t} fill="none" stroke={INK} strokeWidth={1.2} />
      {params.map((p, i) => (
        <g key={"t" + p}>
          <line x1={box.l} x2={box.l + 5} y1={y(pos(i))} y2={y(pos(i))} stroke={INK} />
          <line x1={box.r} x2={box.r - 5} y1={y(pos(i))} y2={y(pos(i))} stroke={INK} />
          <text x={box.l - 10} y={y(pos(i)) + 4} textAnchor="end" fontSize={13} fontFamily={FONT} fill="#222">
            {p.startsWith("u_") ? (<><tspan fontStyle="italic">u</tspan>{p.slice(1)}</>) : p}
          </text>
        </g>
      ))}
      {prccTicks.map((t) => (
        <g key={"x" + t}>
          <line x1={x(t)} x2={x(t)} y1={box.b} y2={box.b - 5} stroke={INK} />
          <line x1={x(t)} x2={x(t)} y1={box.t} y2={box.t + 5} stroke={INK} />
          <text x={x(t)} y={box.b + 25} textAnchor="middle" fontSize={20} fontFamily={FONT} fill="#222">{fmt(t)}</text>
        </g>
      ))}
      <text x={x(0)} y={298} textAnchor="middle" fontSize={20} fontFamily={FONT} fill="#222">PRCC Values</text>
    </g>
  );
}

function Caption({ x, y, label, text }: { x: number; y: number; label: string; text: string }) {
  return (
    <text x={x} y={y} textAnchor="middle" fontSize={17.5} fontFamily={FONT} fill="#222" style={{ whiteSpace: "pre" }}>
      {`(${label})  ${text} `}
      <tspan fontFamily="'DejaVu Serif', serif" fontStyle="italic">ℛ</tspan>
      <tspan fontSize={13} dy={4}>VT</tspan>
    </text>
  );
}

export default function App() {
  const A: Box = { l: 78.3, r: 606, t: 20, b: 238 };
  const B: Box = { l: 718.3, r: 1246, t: 14.3, b: 232.3 };
  const C: Box = { l: 94, r: 621.7, t: 367.7, b: 574 };
  const D: Box = { l: 735.7, r: 1263.3, t: 364.3, b: 572.3 };
  return (
    <svg width={1277} height={682} style={{ position: "absolute", left: 0, top: 0, background: "#fff" }}>
      <rect width={1277} height={682} fill="#fff" />
      <Tornado box={A} />
      <Caption x={305} y={329} label="a" text="The Tornado plots for the elven parameters in" />

      <Scatter box={B} xDomain={[0, 1]} xTicks={betaTicks} pts={betaPts} color="#ee2b2b" dot={2.5} yLabelX={659} yTickX={706} />
      <text x={982} y={291} textAnchor="middle" fontSize={20} fontFamily={FONT} fill="#222">
        Effective contact rate <tspan fontStyle="italic">β</tspan>
      </text>
      <Caption x={931} y={331} label="b" text="The effect of effective contact rate on" />

      <Scatter box={C} xDomain={[0.2, 1]} xTicks={rateTicks} pts={u1Pts} color="#3550b0" dot={2.2} yLabelX={28} yTickX={80} />
      <text x={357} y={632} textAnchor="middle" fontSize={20} fontFamily={FONT} fill="#222">
        Vaccination rate <tspan fontStyle="italic">u</tspan><tspan fontSize={14} dy={4}>1</tspan>
      </text>
      <Caption x={357} y={670} label="c" text="The effect of vaccination on" />

      <Scatter box={D} xDomain={[0.2, 1]} xTicks={rateTicks} pts={u2Pts} color="#3550b0" dot={2.2} yLabelX={668} yTickX={729} />
      <text x={996} y={632} textAnchor="middle" fontSize={20} fontFamily={FONT} fill="#222">
        Treatment rate <tspan fontStyle="italic">u</tspan><tspan fontSize={14} dy={4}>2</tspan>
      </text>
      <Caption x={903} y={670} label="d" text="The effect of treatment on" />
    </svg>
  );
}
